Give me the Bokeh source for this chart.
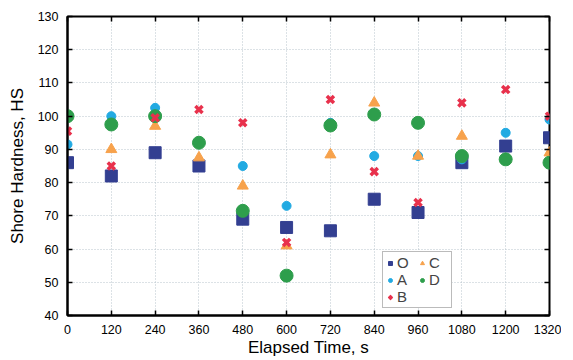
from bokeh.plotting import figure
from bokeh.models import LinearAxis, Range1d, FixedTicker, Legend, LegendItem
from bokeh.embed import file_html
from bokeh.resources import INLINE

times = [0, 120, 240, 360, 480, 600, 720, 840, 960, 1080, 1200, 1320]
series_O = [86, 82, 89, 85, 69, 66.5, 65.5, 75, 71, 86, 91, 93.5]
series_A = [91.5, 100, 102.5, 92, 85, 73, 98, 88, 88, 87, 95, 99]
series_B = [95.5, 85, 99.5, 102, 98, 62, 105, 83.3, 74, 104, 108, 100]
series_C = [100, 90, 97, 87.5, 79, 61, 88.4, 104, 88, 94, 87, 89]
series_D = [100, 97.5, 100, 92, 71.5, 52, 97.2, 100.5, 98, 88, 87, 86]
x_ticks = [0, 120, 240, 360, 480, 600, 720, 840, 960, 1080, 1200, 1320]
y_ticks = [40, 50, 60, 70, 80, 90, 100, 110, 120, 130]

FONT = "Liberation Sans"

p = figure(frame_width=482, frame_height=299, output_backend="svg", toolbar_location=None,
           x_range=Range1d(0, 1320), y_range=Range1d(40, 130),
           min_border_left=67, min_border_right=12, min_border_top=16, min_border_bottom=37)
p.background_fill_color = "white"
p.border_fill_color = "white"
p.outline_line_color = "black"
p.outline_line_width = 2

for ax in (p.xaxis[0], p.yaxis[0]):
    ax.major_tick_in = 5
    ax.major_tick_out = 0
    ax.minor_tick_line_color = None
    ax.axis_line_width = 2
    ax.major_tick_line_width = 1.5
    ax.major_label_text_font = FONT
    ax.major_label_text_font_size = "12.5px"
    ax.major_label_text_color = "black"
    ax.axis_label_text_font = FONT
    ax.axis_label_text_font_size = "17px"
    ax.axis_label_text_font_style = "normal"
    ax.axis_label_text_color = "black"

p.xaxis.ticker = FixedTicker(ticks=x_ticks)
p.yaxis.ticker = FixedTicker(ticks=y_ticks)
p.xaxis.axis_label = "Elapsed Time, s"
p.yaxis.axis_label = "Shore Hardness, HS"
p.xaxis.major_label_standoff = 9
p.yaxis.major_label_standoff = 9
p.xaxis.axis_label_standoff = 1
p.yaxis.axis_label_standoff = 8

top = LinearAxis(ticker=FixedTicker(ticks=x_ticks), major_tick_in=5, major_tick_out=0,
                 minor_tick_line_color=None,
                 major_label_overrides={t: "" for t in x_ticks},
                 axis_line_color=None, major_tick_line_width=1.5, major_label_standoff=0)
right = LinearAxis(ticker=FixedTicker(ticks=y_ticks), major_tick_in=5, major_tick_out=0,
                   minor_tick_line_color=None,
                   major_label_overrides={t: "" for t in y_ticks},
                   axis_line_color=None, major_tick_line_width=1.5, major_label_standoff=0)
p.add_layout(top, "above")
p.add_layout(right, "right")

p.xgrid.grid_line_color = "#b8c4cc"
p.ygrid.grid_line_color = "#b8c4cc"
p.xgrid.grid_line_dash = "1 2"
p.ygrid.grid_line_dash = "1 2"

rO = p.scatter(times, series_O, marker="square", size=12, fill_color="#333f91", line_color="#333f91")
rA = p.scatter(times, series_A, marker="circle", size=9, fill_color="#22aae2", line_color="#22aae2")
rC = p.scatter(times, series_C, marker="triangle", size=11, fill_color="#f7a24c", line_color="#f7a24c")
rD = p.scatter(times, series_D, marker="circle", size=13, fill_color="#2e9e4c", line_color="#2e9e4c")
rB = p.scatter(times, series_B, marker="x", size=10, line_color="#e8314c", line_width=3.5)

legend = Legend(items=[LegendItem(label="O", renderers=[rO]),
                       LegendItem(label="A", renderers=[rA]),
                       LegendItem(label="B", renderers=[rB]),
                       LegendItem(label="C", renderers=[rC]),
                       LegendItem(label="D", renderers=[rD])],
                ncols=2, location=(315, 7))
legend.label_text_font = FONT
legend.label_text_font_size = "15px"
legend.label_height = 12
legend.glyph_width = 10
legend.glyph_height = 10
legend.spacing = 0
legend.padding = 2
legend.margin = 0
legend.label_standoff = 2
legend.label_text_line_height = 1.0
legend.border_line_color = "#777777"
legend.border_line_width = 1
legend.background_fill_alpha = 1
p.add_layout(legend)

open("out.html", "w").write(file_html(p, INLINE))
